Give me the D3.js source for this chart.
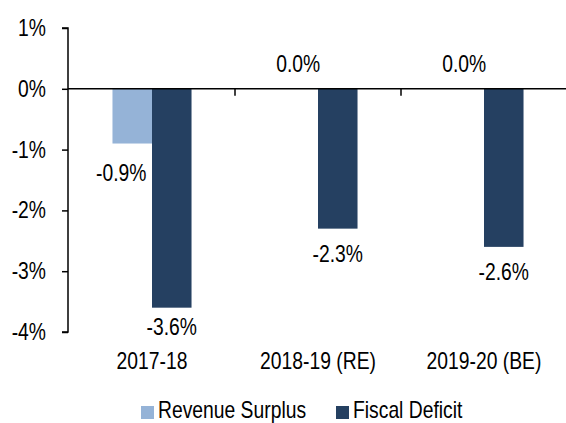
<!DOCTYPE html>
<html>
<head>
<meta charset="utf-8">
<script src="https://cdn.jsdelivr.net/npm/d3@7"></script>
<style>
  html, body { margin: 0; padding: 0; background: #fff; }
  svg { display: block; }
  text { font-family: "Liberation Sans", Arial, sans-serif; font-size: 23px; fill: #000; }
</style>
</head>
<body>
<svg id="chart" width="566" height="423"></svg>
<script>
const categories = ["2017-18", "2018-19 (RE)", "2019-20 (BE)"];
const seriesNames = ["Revenue Surplus", "Fiscal Deficit"];
const revenueSurplus = [-0.9, 0.0, 0.0];
const fiscalDeficit = [-3.6, -2.3, -2.6];
const yTicks = [1, 0, -1, -2, -3, -4];
const colors = ["#95B3D7", "#254061"];

const seriesValues = [revenueSurplus, fiscalDeficit];
const SX = 0.84; // horizontal text compression to match the reference

const svg = d3.select("#chart");

const y = d3.scaleLinear().domain([-4, 1]).range([332, 28]);
const x0 = d3.scaleBand().domain(categories).range([69, 567]).paddingInner(0).paddingOuter(0);
const x1 = d3.scaleBand().domain(seriesNames).range([0, x0.bandwidth()]).paddingInner(0).paddingOuter(1.1);

function addText(g, tx, ty, str, anchor) {
  return g.append("text")
    .attr("transform", `translate(${tx},${ty}) scale(${SX},1)`)
    .attr("text-anchor", anchor || "middle")
    .text(str);
}

// bars
const flat = [];
categories.forEach((c, i) => {
  seriesNames.forEach((s, j) => {
    flat.push({ cat: c, ser: s, si: j, ci: i, v: seriesValues[j][i] });
  });
});

svg.append("g").selectAll("rect").data(flat).join("rect")
  .attr("x", d => x0(d.cat) + x1(d.ser))
  .attr("width", x1.bandwidth())
  .attr("y", d => Math.min(y(0), y(d.v)))
  .attr("height", d => Math.abs(y(d.v) - y(0)))
  .attr("fill", d => colors[d.si]);

// y axis
const yAxis = d3.axisLeft(y).tickValues(yTicks).tickSize(6).tickFormat("");
const yg = svg.append("g").attr("transform", "translate(68,0)").call(yAxis);
yg.select(".domain").attr("d", `M-6,${y(1)}H0V${y(-4)}H-6`).attr("stroke", "#000").attr("stroke-width", 1.5);
yg.selectAll(".tick line").attr("stroke", "#000").attr("stroke-width", 1.5);

const ylab = svg.append("g");
yTicks.forEach(t => addText(ylab, 46, y(t) + 8, t + "%", "end"));

// zero line with category ticks
const xAxis = d3.axisBottom(x0).tickSize(0).tickFormat("");
const xg = svg.append("g").attr("transform", `translate(0,${y(0)})`).call(xAxis);
xg.select(".domain").attr("d", `M68,0H566`).attr("stroke", "#000").attr("stroke-width", 1.5);
xg.selectAll(".tick").remove();
const bounds = categories.slice(1).map(c => x0(c));
xg.selectAll("line.sep").data(bounds).join("line")
  .attr("x1", d => d).attr("x2", d => d).attr("y1", 0).attr("y2", 7)
  .attr("stroke", "#000").attr("stroke-width", 1.5);

// category labels
const clab = svg.append("g");
categories.forEach(c => addText(clab, x0(c) + x0.bandwidth() / 2, 369, c));

// data labels (with manual nudges as in the reference)
const nudges = { "Revenue Surplus|2017-18": [-11, 4], "Fiscal Deficit|2017-18": [0, -6] };
const dlab = svg.append("g");
flat.forEach(d => {
  const cx = x0(d.cat) + x1(d.ser) + x1.bandwidth() / 2;
  const end = y(d.v);
  const n = nudges[d.ser + "|" + d.cat] || [0, 0];
  const cy = d.v < 0 ? end + 25 : end - 25;
  addText(dlab, cx + n[0], cy + 8 + n[1], d.v.toFixed(1) + "%");
});

// legend
const legendX = [141, 336];
const lg = svg.append("g");
seriesNames.forEach((s, i) => {
  lg.append("rect").attr("x", legendX[i]).attr("y", 406).attr("width", 13).attr("height", 13).attr("fill", colors[i]);
  addText(lg, legendX[i] + 17, 418, s, "start");
});
</script>
</body>
</html>
